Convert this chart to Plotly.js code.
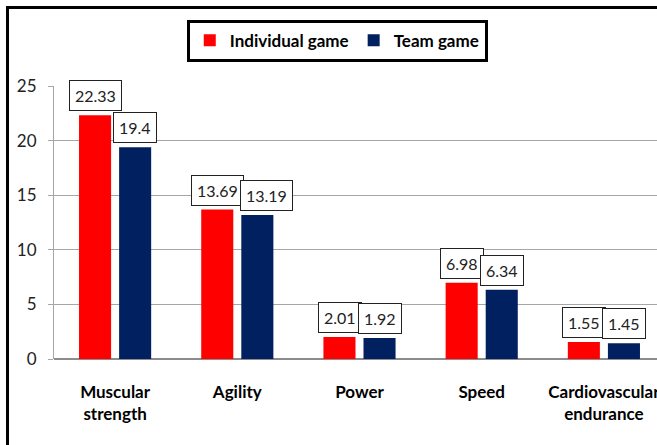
<!DOCTYPE html>
<html>
<head>
<meta charset="utf-8">
<script src="https://cdn.plot.ly/plotly-3.0.1.min.js"></script>
<style>
html, body { margin:0; padding:0; width:657px; height:445px; overflow:hidden; background:#fff; }
#chart { position:absolute; left:0; top:0; }
#frame { position:absolute; left:6px; top:6px; width:720px; height:520px; border-left:3px solid #000; border-top:3px solid #000; pointer-events:none; }
</style>
</head>
<body>
<div id="chart"></div>
<div id="frame"></div>
<script>
var categories = ["Muscular<br>strength", "Agility", "Power", "Speed", "Cardiovascular<br>endurance"];
var individualGame = [22.33, 13.69, 2.01, 6.98, 1.55];
var teamGame = [19.4, 13.19, 1.92, 6.34, 1.45];
var yTicks = [0, 5, 10, 15, 20, 25];
var seriesNames = ["Individual game", "Team game"];
var seriesColors = ["#FF0000", "#002060"];

var idx = categories.map(function(_, i){ return i; });

var traces = [
  { type: "bar", name: seriesNames[0], x: idx, y: individualGame, marker: { color: seriesColors[0] }, hoverinfo: "none" },
  { type: "bar", name: seriesNames[1], x: idx, y: teamGame, marker: { color: seriesColors[1] }, hoverinfo: "none" }
];

// label boxes; nudge the right-hand label when two wide boxes would collide
var pxPerUnit = 273 / 25, boxH = 31;
function boxW(t){ var d = t.replace(/[^0-9]/g, "").length; return d * 9.3 + 4 + 12; }
var annotations = [];
individualGame.forEach(function(rv, i){
  var bv = teamGame[i];
  var rt = String(rv), bt = String(bv);
  var shiftB = 20;
  if ((rv - bv) * pxPerUnit < boxH) {
    var overlap = (boxW(rt) + boxW(bt)) / 2 - 40;
    if (overlap > 8) shiftB = 20 + overlap - 4;
  }
  [[rv, rt, -20], [bv, bt, shiftB]].forEach(function(a){
    annotations.push({
      x: i, y: a[0], xref: "x", yref: "y",
      text: a[1], showarrow: false,
      xanchor: "center", yanchor: "bottom",
      xshift: a[2], yshift: 4,
      bgcolor: "#ffffff", bordercolor: "#222", borderwidth: 1, borderpad: 5,
      font: { family: "Lato, 'Liberation Sans', sans-serif", size: 16, color: "#222" }
    });
  });
});

var layout = {
  width: 670, height: 445,
  margin: { l: 54, r: 5, t: 86, b: 86, pad: 0 },
  paper_bgcolor: "rgba(0,0,0,0)", plot_bgcolor: "rgba(0,0,0,0)",
  barmode: "group", bargap: 0.344, bargroupgap: 0.2,
  showlegend: true,
  legend: {
    orientation: "h", x: 0.4636, xanchor: "center", y: 1.243, yanchor: "top",
    bordercolor: "#000", borderwidth: 3, bgcolor: "#fff",
    font: { family: "Lato, sans-serif", size: 17, color: "#000", weight: 700 },
    itemclick: false, itemdoubleclick: false
  },
  xaxis: {
    range: [-0.5, 4.5], tickmode: "array", tickvals: idx, ticktext: categories,
    showgrid: false, zeroline: false, showline: false, ticks: "",
    ticklabelstandoff: 21,
    tickfont: { family: "Lato, sans-serif", size: 17, color: "#000", weight: 700 },
    fixedrange: true
  },
  yaxis: {
    range: [0, 25], tickmode: "array", tickvals: yTicks,
    showgrid: true, gridcolor: "#a6a6a6", gridwidth: 1,
    zeroline: true, zerolinecolor: "#8c8c8c", zerolinewidth: 2,
    showline: true, linecolor: "#a6a6a6", linewidth: 1,
    ticks: "outside", ticklen: 5, tickcolor: "#a6a6a6",
    ticklabelstandoff: 8,
    tickfont: { family: "Lato, sans-serif", size: 17, color: "#222" },
    fixedrange: true
  },
  annotations: annotations
};

Plotly.newPlot("chart", traces, layout, { displayModeBar: false, staticPlot: true });
</script>
</body>
</html>
